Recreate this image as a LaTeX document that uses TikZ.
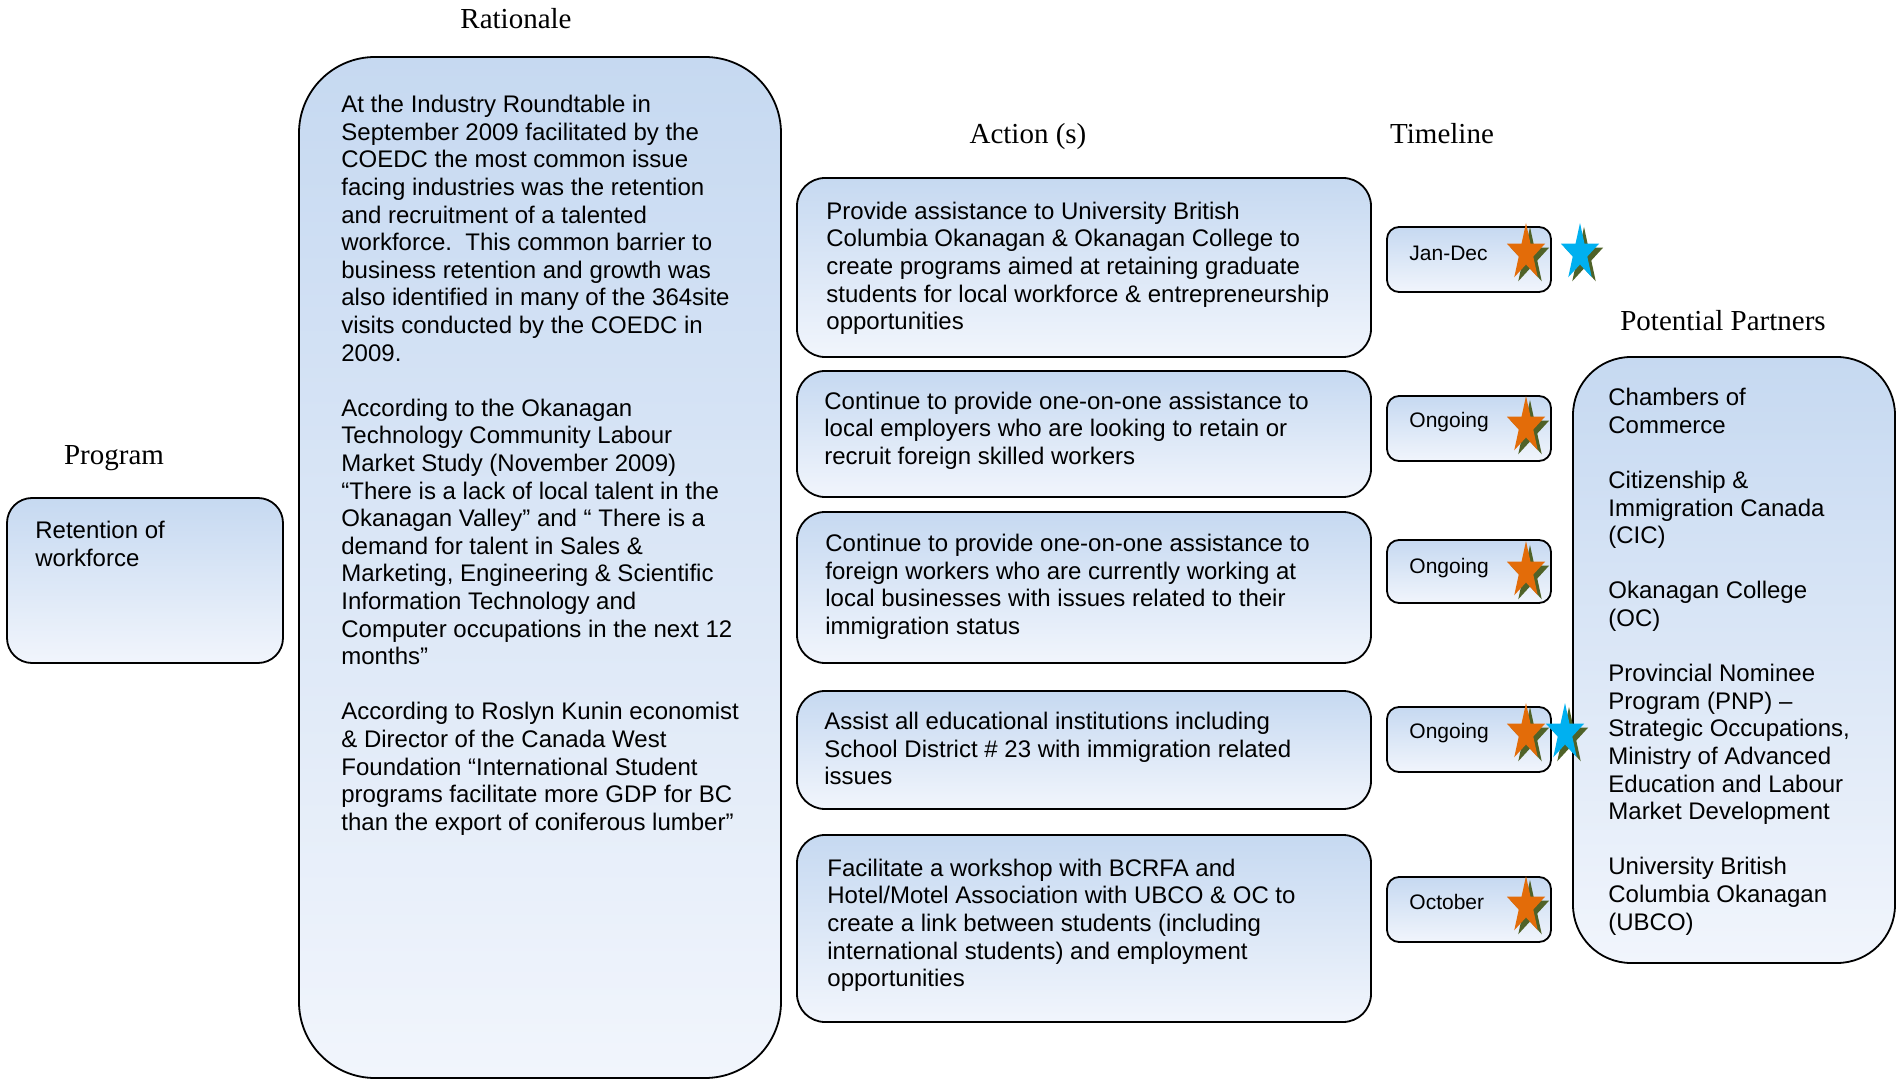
\documentclass[tikz,border=0pt]{standalone}
\usepackage{fontspec}
\setmainfont{Liberation Serif}
\newfontfamily\arialfont{Liberation Sans}
\definecolor{boxtop}{HTML}{C6D9F1}
\definecolor{boxbot}{HTML}{F1F5FC}
\definecolor{starorange}{HTML}{E36C09}
\definecolor{starblue}{HTML}{00B0F0}
\definecolor{starshadow}{HTML}{4F6228}
\def\starmark[#1](#2,#3){\foreach \c/\d in {starshadow/4,#1/0}{\fill[fill=\c, shift={(#2+\d,#3+\d)}] (0,-30) \foreach \k in {1,...,9}{ -- ({20*sin(36*\k)*(0.691+0.309*cos(180*\k))},{-30*cos(36*\k)*(0.691+0.309*cos(180*\k))})} -- cycle;}}
\tikzset{
  panel/.style={draw=black, line width=0.9pt, top color=boxtop, bottom color=boxbot},
  heading/.style={font=\fontsize{14.5}{17}\selectfont, anchor=base, inner sep=0pt},
  body/.style={font=\arialfont\fontsize{12}{13.8}\selectfont, align=left, anchor=north west, inner sep=0pt},
  when/.style={font=\arialfont\fontsize{10.5}{12}\selectfont, anchor=base west, inner sep=0pt},
}

\begin{document}
\begin{tikzpicture}[x=0.5pt, y=-0.5pt]
		%%%%% START %%%%%
		\useasboundingbox (0,0) rectangle (1897,1080);
		
		\node[heading] (ratTitle) at (516,29) {Rationale};
		\node[heading] (progTitle) at (114,465) {Program};
		\node[heading] (actTitle) at (1028,144) {Action (s)};
		\node[heading] (timeTitle) at (1442,144) {Timeline};
		\node[heading] (partTitle) at (1723,331) {Potential Partners};
		
		\draw[panel, rounded corners=12.5pt] (7,498) rectangle (283,663);
		\node[body] (prog) at (35,521) {Retention of\\workforce};
		
		\draw[panel, rounded corners=38pt] (299,57) rectangle (781,1078);
		\node[body] (rat) at (341,95) {At the Industry Roundtable in\\September 2009 facilitated by the\\COEDC the most common issue\\facing industries was the retention\\and recruitment of a talented\\workforce.\ \ This common barrier to\\business retention and growth was\\also identified in many of the 364site\\visits conducted by the COEDC in\\2009.\\[13.8pt]According to the Okanagan\\Technology Community Labour\\Market Study (November 2009)\\“There is a lack of local talent in the\\Okanagan Valley” and “ There is a\\demand for talent in Sales \&\\Marketing, Engineering \& Scientific\\Information Technology and\\Computer occupations in the next 12\\months”\\[13.8pt]According to Roslyn Kunin economist\\\& Director of the Canada West\\Foundation “International Student\\programs facilitate more GDP for BC\\than the export of coniferous lumber”};
		
		\draw[panel, rounded corners=14pt] (797,178) rectangle (1371,357);
		\node[body] (act1) at (826,201.5) {Provide assistance to University British\\Columbia Okanagan \& Okanagan College to\\create programs aimed at retaining graduate\\students for local workforce \& entrepreneurship\\opportunities};
		\draw[panel, rounded corners=14pt] (797,371) rectangle (1371,497);
		\node[body] (act2) at (824,391.5) {Continue to provide one-on-one assistance to\\local employers who are looking to retain or\\recruit foreign skilled workers};
		\draw[panel, rounded corners=14pt] (797,512) rectangle (1371,663);
		\node[body] (act3) at (825,534) {Continue to provide one-on-one assistance to\\foreign workers who are currently working at\\local businesses with issues related to their\\immigration status};
		\draw[panel, rounded corners=14pt] (797,691) rectangle (1371,809);
		\node[body] (act4) at (824,712) {Assist all educational institutions including\\School District \# 23 with immigration related\\issues};
		\draw[panel, rounded corners=14pt] (797,835) rectangle (1371,1022);
		\node[body] (act5) at (827,858.5) {Facilitate a workshop with BCRFA and\\Hotel/Motel Association with UBCO \& OC to\\create a link between students (including\\international students) and employment\\opportunities};
		
		\draw[panel, rounded corners=6pt] (1387,227) rectangle (1551,292);
		\node[when] (time1) at (1409,260.5) {Jan-Dec};
		\draw[panel, rounded corners=6pt] (1387,396) rectangle (1551,461);
		\node[when] (time2) at (1409,427.5) {Ongoing};
		\draw[panel, rounded corners=6pt] (1387,540) rectangle (1551,603);
		\node[when] (time3) at (1409,573.5) {Ongoing};
		\draw[panel, rounded corners=6pt] (1387,707) rectangle (1551,772);
		\node[when] (time4) at (1409,738.5) {Ongoing};
		\draw[panel, rounded corners=6pt] (1387,877) rectangle (1551,942);
		\node[when] (time5) at (1409,909.5) {October};
		
		\draw[panel, rounded corners=29pt] (1573,357) rectangle (1895,963);
		\node[body] (part) at (1608,388) {Chambers of\\Commerce\\[13.8pt]Citizenship \&\\Immigration Canada\\(CIC)\\[13.8pt]Okanagan College\\(OC)\\[13.8pt]Provincial Nominee\\Program (PNP) –\\Strategic Occupations,\\Ministry of Advanced\\Education and Labour\\Market Development\\[13.8pt]University British\\Columbia Okanagan\\(UBCO)};
		
		\starmark[starorange](1526,253)
		\starmark[starblue](1580,253)
		\starmark[starorange](1526,426)
		\starmark[starorange](1526,571)
		\starmark[starorange](1526,733)
		\starmark[starblue](1565,733)
		\starmark[starorange](1526,906)
		%%%%% END %%%%%
	\end{tikzpicture}
\end{document}
